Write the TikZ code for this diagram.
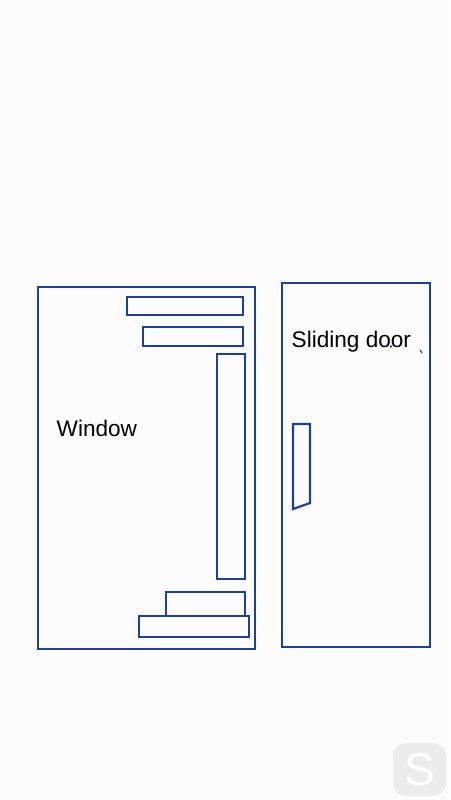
\documentclass[tikz,border=0pt]{standalone}
\usepackage{fontspec}
\setmainfont{Liberation Sans}
\begin{document}
\begin{tikzpicture}[x=1pt,y=-1pt,
  pen/.style={draw=penblue,line width=2.2pt},
  lbl/.style={font=\fontsize{22.6}{26}\selectfont,text=black,inner sep=0pt,anchor=base west}]
\definecolor{penblue}{RGB}{28,64,160}
\definecolor{bg}{RGB}{252,252,252}
\definecolor{wm}{RGB}{236,236,236}
\fill[bg] (0,0) rectangle (450,800);
\useasboundingbox (0,0) rectangle (450,800);
% window
\draw[pen] (38,287) rectangle (255,649);
\draw[pen] (127,297) rectangle (243,315);
\draw[pen] (143,327) rectangle (243,346);
\draw[pen] (217,354) rectangle (245,579);
\draw[pen] (166,592) rectangle (245,616);
\draw[pen] (139,616) rectangle (249,637);
\node[lbl] (win) at (56.5,436) {Window};
% door
\draw[pen] (282,283) rectangle (430,647);
\draw[pen] (293,424) -- (310,424) -- (310,503) -- (293,509) -- cycle;
\node[lbl] (door) at (291.5,347) {Sliding door};
\fill[penblue] (391,346.5) circle (1.4);
\draw[penblue,line width=1.2pt] (420,350) -- (422,353);
% watermark
\fill[wm,rounded corners=13pt] (393,743) rectangle (446,796);
\node[font=\fontsize{46}{46}\selectfont,text=white,inner sep=0pt] (wmS) at (419.5,770) {S};
\end{tikzpicture}
\end{document}
